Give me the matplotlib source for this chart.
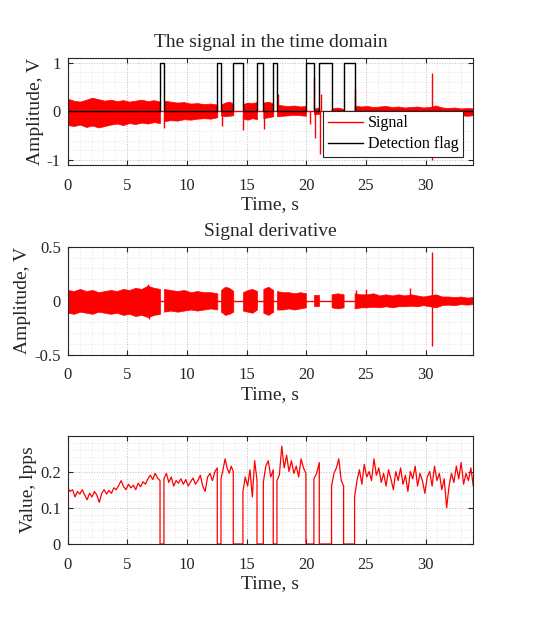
import numpy as np
import matplotlib
matplotlib.use('Agg')
import matplotlib.pyplot as plt
from matplotlib.ticker import MultipleLocator, FuncFormatter

plt.rcParams['font.family'] = ['Liberation Serif', 'DejaVu Serif']

t_end = 34
# detection flag = 1 between these times
flag_on = [7.74, 12.54, 13.88, 15.87, 17.23, 19.97, 21.09, 23.13]
flag_off = [8.07, 12.85, 14.69, 16.40, 17.54, 20.64, 22.12, 24.05]

# signal envelope for each segment where flag = 0
sig_up = [
    [0.26, 0.22, 0.20, 0.24, 0.28, 0.25, 0.22, 0.24, 0.21, 0.23, 0.20, 0.22, 0.24, 0.21, 0.23, 0.20],
    [0.22, 0.20, 0.18, 0.19, 0.16, 0.17, 0.15, 0.16, 0.14],
    [0.14, 0.18, 0.20, 0.16],
    [0.15, 0.18, 0.17, 0.19],
    [0.18, 0.20, 0.16],
    [0.14, 0.12, 0.11, 0.12, 0.10, 0.11],
    [0.06, 0.08],
    [0.06, 0.08, 0.05],
    [0.12, 0.10, 0.11, 0.09, 0.10, 0.11, 0.09, 0.10, 0.08, 0.09, 0.10, 0.08, 0.09, 0.12, 0.08, 0.07, 0.08, 0.06, 0.07, 0.06],
]
sig_lo = [
    [-0.28, -0.30, -0.27, -0.32, -0.29, -0.33, -0.30, -0.27, -0.25, -0.28, -0.24, -0.26, -0.23, -0.25, -0.22, -0.24],
    [-0.20, -0.18, -0.19, -0.16, -0.17, -0.15, -0.14, -0.15, -0.12],
    [-0.08, -0.10, -0.09, -0.08],
    [-0.15, -0.17, -0.14, -0.16],
    [-0.14, -0.12, -0.10],
    [-0.10, -0.09, -0.08, -0.07, -0.08, -0.09],
    [-0.06, -0.05],
    [-0.04, -0.03, -0.04],
    [-0.06, -0.05, -0.06, -0.05, -0.04, -0.05, -0.06, -0.05, -0.04, -0.05, -0.06, -0.05, -0.06, -0.08, -0.07, -0.08, -0.07, -0.08, -0.09, -0.08],
]
sig_spike_t = [8.10, 12.90, 14.72, 16.42, 17.60, 20.30, 20.66, 20.75, 21.12, 21.22, 24.10, 30.50, 30.55]
sig_spike_v = [-0.35, -0.30, -0.38, -0.36, 0.35, -0.25, 0.70, -0.55, -0.87, 0.35, 0.45, 0.78, -1.0]

# derivative envelope
der_up = [
    [0.10, 0.09, 0.11, 0.09, 0.10, 0.08, 0.09, 0.10, 0.09, 0.11, 0.10, 0.12, 0.11, 0.14, 0.12, 0.11],
    [0.11, 0.10, 0.09, 0.10, 0.08, 0.09, 0.08, 0.08, 0.07],
    [0.10, 0.13, 0.12, 0.09],
    [0.08, 0.10, 0.11, 0.09],
    [0.11, 0.13, 0.10],
    [0.09, 0.08, 0.08, 0.07, 0.08, 0.07],
    [0.05, 0.05],
    [0.06, 0.07, 0.06],
    [0.07, 0.06, 0.06, 0.07, 0.05, 0.06, 0.05, 0.06, 0.05, 0.06, 0.05, 0.04, 0.05, 0.06, 0.04, 0.04, 0.035, 0.04, 0.03, 0.035],
]
der_lo = [
    [-0.11, -0.12, -0.10, -0.11, -0.12, -0.10, -0.11, -0.12, -0.11, -0.13, -0.12, -0.14, -0.13, -0.15, -0.13, -0.12],
    [-0.10, -0.09, -0.10, -0.09, -0.08, -0.09, -0.08, -0.07, -0.08],
    [-0.10, -0.13, -0.12, -0.10],
    [-0.09, -0.10, -0.11, -0.08],
    [-0.11, -0.13, -0.10],
    [-0.08, -0.08, -0.07, -0.08, -0.07, -0.06],
    [-0.05, -0.05],
    [-0.06, -0.07, -0.06],
    [-0.07, -0.06, -0.06, -0.055, -0.06, -0.05, -0.06, -0.05, -0.05, -0.045, -0.05, -0.04, -0.05, -0.06, -0.04, -0.035, -0.04, -0.03, -0.035, -0.03],
]
der_spike_t = [6.70, 6.80, 24.20, 25.00, 28.70, 30.50, 30.55]
der_spike_v = [0.16, -0.17, 0.10, 0.11, 0.12, 0.45, -0.42]

# feature value (lpps) for each segment where flag = 0
val = [
    [0.155, 0.145, 0.150, 0.130, 0.145, 0.138, 0.150, 0.135, 0.122, 0.140,
     0.130, 0.145, 0.135, 0.115, 0.140, 0.150, 0.138, 0.148, 0.140, 0.155,
     0.150, 0.162, 0.175, 0.158, 0.150, 0.165, 0.155, 0.162, 0.150, 0.168,
     0.158, 0.172, 0.165, 0.180, 0.190, 0.178, 0.195, 0.182, 0.175],
    [0.180, 0.195, 0.170, 0.185, 0.160, 0.175, 0.168, 0.180, 0.165, 0.178, 0.160, 0.172,
     0.182, 0.165, 0.175, 0.190, 0.160, 0.145, 0.185, 0.195, 0.175, 0.200, 0.210],
    [0.180, 0.205, 0.235, 0.210, 0.195, 0.215, 0.200],
    [0.145, 0.185, 0.160, 0.205, 0.130, 0.230, 0.175],
    [0.170, 0.215, 0.230, 0.185, 0.205],
    [0.175, 0.190, 0.270, 0.210, 0.245, 0.200, 0.230, 0.195, 0.215, 0.185, 0.235, 0.210, 0.195],
    [0.180, 0.195, 0.225],
    [0.160, 0.195, 0.210, 0.235, 0.175, 0.160],
    [0.130, 0.175, 0.205, 0.165, 0.220, 0.185, 0.200, 0.175, 0.235, 0.190,
     0.210, 0.170, 0.195, 0.160, 0.205, 0.180, 0.150, 0.200, 0.175, 0.210,
     0.165, 0.190, 0.145, 0.200, 0.180, 0.215, 0.160, 0.195, 0.175, 0.140,
     0.185, 0.200, 0.160, 0.215, 0.175, 0.195, 0.150, 0.180, 0.100, 0.160,
     0.195, 0.170, 0.215, 0.180, 0.225, 0.165, 0.195, 0.175, 0.210, 0.160],
]

seg_start = [0] + flag_off
seg_end = flag_on + [t_end]

RED = '#ff0000'
TXT = '#262626'


def fmt(v, pos):
    return ('%g' % round(v, 6)).replace('\u2212', '-')


def style(ax, ymin, ymax, ymaj, ymin_step):
    ax.set_xlim(0, t_end)
    ax.set_ylim(ymin, ymax)
    ax.xaxis.set_major_locator(MultipleLocator(5))
    ax.xaxis.set_minor_locator(MultipleLocator(1))
    ax.yaxis.set_major_locator(MultipleLocator(ymaj))
    ax.yaxis.set_minor_locator(MultipleLocator(ymin_step))
    ax.xaxis.set_major_formatter(FuncFormatter(fmt))
    ax.yaxis.set_major_formatter(FuncFormatter(fmt))
    ax.grid(which='major', linestyle=':', color='#bdbdbd', linewidth=0.7)
    ax.grid(which='minor', linestyle=':', color='#e2e2e2', linewidth=0.6)
    ax.set_axisbelow(True)
    ax.tick_params(which='both', direction='in', top=True, right=True, labelsize=12, colors=TXT)
    ax.tick_params(axis='x', pad=9)
    ax.tick_params(axis='y', pad=5)
    ax.tick_params(which='minor', length=0)
    for s in ax.spines.values():
        s.set_color(TXT)
        s.set_linewidth(0.8)
    ax.set_xlabel('Time, s', fontsize=14, color=TXT, labelpad=2)


fig = plt.figure(figsize=(5.54, 6.33), dpi=100)
ax1 = fig.add_axes([0.1222, 0.7393, 0.7321, 0.1695])
ax2 = fig.add_axes([0.1222, 0.4392, 0.7321, 0.1711])
ax3 = fig.add_axes([0.1222, 0.1406, 0.7321, 0.1711])

# top: signal and detection flag
for i in range(len(seg_start)):
    tt = np.linspace(seg_start[i], seg_end[i], len(sig_up[i]))
    ax1.fill_between(tt, sig_lo[i], sig_up[i], color=RED, linewidth=0.5, edgecolor=RED)
ax1.vlines(sig_spike_t, 0, sig_spike_v, color=RED, linewidth=1)
ax1.plot([0, t_end], [0, 0], color=RED, linewidth=1, label='Signal')
ft = [0]
fv = [0]
for a, b in zip(flag_on, flag_off):
    ft += [a, a, b, b]
    fv += [0, 1, 1, 0]
ft.append(t_end)
fv.append(0)
ax1.plot(ft, fv, color='black', linewidth=1, label='Detection flag')
style(ax1, -1.1, 1.1, 1, 0.2)
ax1.set_ylabel('Amplitude, V', fontsize=14, color=TXT, labelpad=2)
ax1.set_title('The signal in the time domain', fontsize=14, color=TXT, pad=8)
leg = ax1.legend(loc='lower right', bbox_to_anchor=(0.975, 0.075), borderaxespad=0,
                 fontsize=11.5, fancybox=False, framealpha=1, edgecolor=TXT,
                 handlelength=2.2, borderpad=0.3, labelspacing=0.3, handletextpad=0.3)
leg.get_frame().set_linewidth(0.8)

# middle: derivative
for i in range(len(seg_start)):
    tt = np.linspace(seg_start[i], seg_end[i], len(der_up[i]))
    ax2.fill_between(tt, der_lo[i], der_up[i], color=RED, linewidth=0.5, edgecolor=RED)
ax2.vlines(der_spike_t, 0, der_spike_v, color=RED, linewidth=1)
ax2.plot([0, t_end], [0, 0], color=RED, linewidth=1)
style(ax2, -0.5, 0.5, 0.5, 0.1)
ax2.set_ylabel('Amplitude, V', fontsize=14, color=TXT, labelpad=2)
ax2.set_title('Signal derivative', fontsize=14, color=TXT, pad=8)

# bottom: feature value
vt = []
vv = []
for i in range(len(seg_start)):
    tt = np.linspace(seg_start[i], seg_end[i], len(val[i]))
    if i > 0:
        vt.append(seg_start[i])
        vv.append(0)
    vt += list(tt)
    vv += val[i]
    if i < len(seg_start) - 1:
        vt.append(seg_end[i])
        vv.append(0)
ax3.plot(vt, vv, color=RED, linewidth=0.9)
style(ax3, 0, 0.299, 0.1, 0.02)
ax3.set_ylabel('Value, lpps', fontsize=14, color=TXT, labelpad=2)

fig.savefig('out.png', dpi=100)
